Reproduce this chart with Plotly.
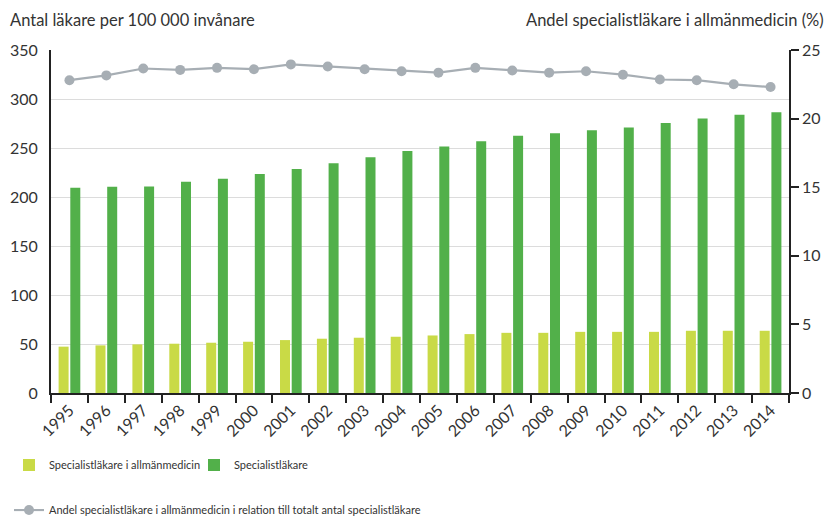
import plotly.graph_objects as go

years = [str(y) for y in range(1995, 2015)]
allman = [47.3, 48.6, 49.6, 50.3, 51.3, 52.3, 54.0, 55.4, 56.4, 57.4,
          58.7, 60.1, 61.4, 61.4, 62.4, 62.4, 62.4, 63.5, 63.5, 63.5]
special = [209.5, 210.5, 210.8, 215.5, 218.5, 223.5, 228.5, 234.5, 240.5, 247.0,
           251.5, 257.0, 262.5, 265.0, 268.0, 271.0, 275.5, 280.0, 284.0, 286.5]
andel = [22.8, 23.15, 23.65, 23.55, 23.7, 23.6, 23.95, 23.8, 23.6, 23.45,
         23.35, 23.7, 23.5, 23.35, 23.45, 23.2, 22.85, 22.8, 22.5, 22.3]

name_allman = "Specialistläkare i allmänmedicin"
name_special = "Specialistläkare"
name_andel = "Andel specialistläkare i allmänmedicin i relation till totalt antal specialistläkare"
title_left = "Antal läkare per 100 000 invånare"
title_right = "Andel specialistläkare i allmänmedicin (%)"

FONT = "Lato"
TXT = "#333333"

fig = go.Figure()
fig.add_trace(go.Bar(x=years, y=allman, name=name_allman, marker_color="#c9da46",
                     marker_line_width=0, legend="legend"))
fig.add_trace(go.Bar(x=years, y=special, name=name_special, marker_color="#52b04a",
                     marker_line_width=0, legend="legend"))
fig.add_trace(go.Scatter(x=years, y=andel, name=name_andel, yaxis="y2", mode="lines+markers",
                         line=dict(color="#a7aeb4", width=2.2),
                         marker=dict(color="#a7aeb4", size=10), legend="legend2"))

L, R, T, B = 51, 43, 50, 126
W, H = 832, 519
pw = W - L - R
ph = H - T - B

def px_x(x):
    return (x - L) / pw

def px_y(y):
    return (H - B - y) / ph

fig.update_layout(
    width=W, height=H,
    margin=dict(l=L, r=R, t=T, b=B, pad=0, autoexpand=False),
    paper_bgcolor="white", plot_bgcolor="white",
    font=dict(family=FONT, size=15, color=TXT),
    barmode="group", bargap=0.366, bargroupgap=0.145,
    xaxis=dict(type="category", range=[-0.5, len(years) - 0.5], tickson="boundaries",
               ticks="outside", ticklen=8,
               tickcolor="#222", tickwidth=1.5, showline=True, linecolor="#222", linewidth=1.5,
               tickangle=-45, tickfont=dict(size=16, color=TXT), showgrid=False,
               automargin=False),
    yaxis=dict(range=[0, 350], dtick=50, showgrid=True, gridcolor="#dcdcdc", gridwidth=1,
               showline=True, linecolor="#222", linewidth=1.5, ticks="", zeroline=False,
               tickfont=dict(size=16, color=TXT), ticksuffix="  ", automargin=False),
    yaxis2=dict(range=[0, 25], dtick=5, overlaying="y", side="right", showgrid=False,
                showline=True, linecolor="#222", linewidth=1.5, ticks="outside", ticklen=8,
                tickcolor="#222", tickwidth=1.5, zeroline=False,
                tickfont=dict(size=16, color=TXT), automargin=False),
    legend=dict(orientation="h", x=px_x(9), xanchor="left", y=px_y(465), yanchor="middle",
                font=dict(size=11, color=TXT), itemwidth=30,
                entrywidth=140, entrywidthmode="pixels",
                bgcolor="rgba(0,0,0,0)", traceorder="normal"),
    legend2=dict(orientation="h", x=px_x(9), xanchor="left", y=px_y(510), yanchor="middle",
                 font=dict(size=11, color=TXT), itemwidth=30,
                 bgcolor="rgba(0,0,0,0)"),
    annotations=[
        dict(text=title_left, xref="paper", yref="paper", x=px_x(8), y=px_y(20),
             xanchor="left", yanchor="middle", showarrow=False, font=dict(size=16.5, color=TXT)),
        dict(text=title_right, xref="paper", yref="paper", x=px_x(826), y=px_y(20),
             xanchor="right", yanchor="middle", showarrow=False, font=dict(size=16.5, color=TXT)),
    ],
)

fig.write_html("out.html", config={"displayModeBar": False},
               post_script="document.body.style.margin='0';document.body.style.padding='0';")
